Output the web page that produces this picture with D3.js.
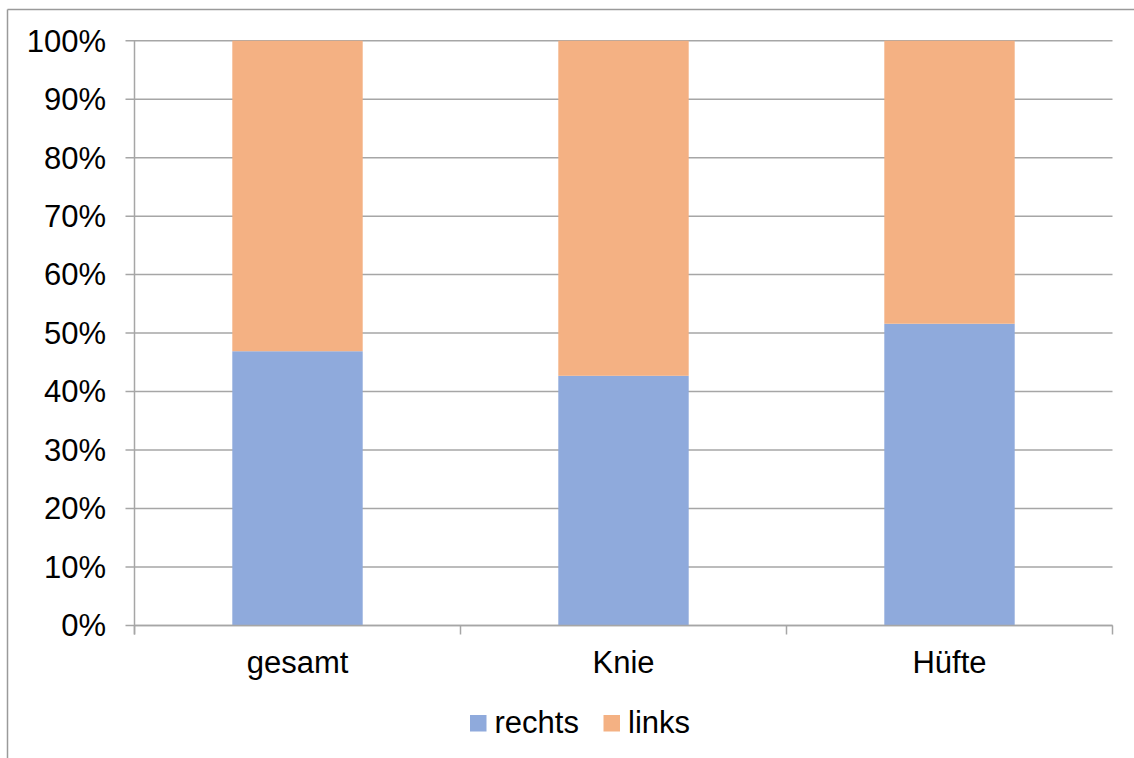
<!DOCTYPE html>
<html><head><meta charset="utf-8">
<script src="https://cdn.jsdelivr.net/npm/d3@7"></script>
<style>html,body{margin:0;padding:0;background:#fff;}svg{display:block;font-family:"Liberation Sans",Arial,sans-serif;}</style>
</head><body>
<svg id="c" width="1134" height="758"></svg>
<script>
const categories = ["gesamt", "Knie", "Hüfte"];
const rechts = [0.469, 0.427, 0.516];
const links = [0.531, 0.573, 0.484];
const seriesNames = ["rechts", "links"];
const colors = ["#8FAADC", "#F4B183"];
const yTicks = [0,0.1,0.2,0.3,0.4,0.5,0.6,0.7,0.8,0.9,1.0];

const svg = d3.select("#c");
// outer frame
svg.append("line").attr("x1",7.5).attr("x2",1134).attr("y1",9.5).attr("y2",9.5).attr("stroke","#9a9a9a").attr("stroke-width",1.5);
svg.append("line").attr("x1",7.5).attr("x2",7.5).attr("y1",9.5).attr("y2",758).attr("stroke","#9a9a9a").attr("stroke-width",1.5);

const L=134.5, R=1112.5, T=40.7, B=625.5;
const x = d3.scaleBand().domain(categories).range([L,R]).paddingInner(0.6).paddingOuter(0.3);
const y = d3.scaleLinear().domain([0,1]).range([B,T]);

const data = categories.map((c,i)=>({cat:c, rechts:rechts[i], links:links[i]}));
const stack = d3.stack().keys(seriesNames)(data);

// grid
svg.append("g").selectAll("line").data(yTicks).join("line")
  .attr("x1",L-9).attr("x2",R).attr("y1",d=>y(d)).attr("y2",d=>y(d))
  .attr("stroke","#a6a6a6").attr("stroke-width",1.5);

// bars
svg.append("g").selectAll("g").data(stack).join("g")
  .attr("fill",(d,i)=>colors[i])
  .selectAll("rect").data(d=>d).join("rect")
  .attr("x",d=>x(d.data.cat)).attr("width",x.bandwidth())
  .attr("y",d=>y(d[1])).attr("height",d=>y(d[0])-y(d[1]));

// y axis line
svg.append("line").attr("x1",L).attr("x2",L).attr("y1",T).attr("y2",B+9).attr("stroke","#a6a6a6").attr("stroke-width",1.5);
// x axis
svg.append("line").attr("x1",L).attr("x2",R).attr("y1",B).attr("y2",B).attr("stroke","#a6a6a6").attr("stroke-width",1.5);
const sepTicks = d3.range(categories.length+1).map(i=>L+i*(R-L)/categories.length);
svg.append("g").selectAll("line").data(sepTicks).join("line")
  .attr("x1",d=>d).attr("x2",d=>d).attr("y1",B).attr("y2",B+9)
  .attr("stroke","#a6a6a6").attr("stroke-width",1.5);

// y labels
svg.append("g").selectAll("text").data(yTicks).join("text")
  .attr("x",106).attr("y",d=>y(d)).attr("dy","0.35em")
  .attr("text-anchor","end").attr("font-size",31).attr("fill","#000")
  .text(d=>d3.format(".0%")(d));

// x labels
svg.append("g").selectAll("text").data(categories).join("text")
  .attr("x",d=>x(d)+x.bandwidth()/2).attr("y",673)
  .attr("text-anchor","middle").attr("font-size",31).attr("fill","#000")
  .text(d=>d);

// legend
const legX = [470, 603.5];
const lg = svg.append("g").selectAll("g").data(seriesNames).join("g")
  .attr("transform",(d,i)=>`translate(${legX[i]},0)`);
lg.append("rect").attr("x",0).attr("y",715).attr("width",16.5).attr("height",16.5).attr("fill",(d,i)=>colors[i]);
lg.append("text").attr("x",24.5).attr("y",733).attr("font-size",31).attr("fill","#000").text(d=>d);
</script>
</body></html>
